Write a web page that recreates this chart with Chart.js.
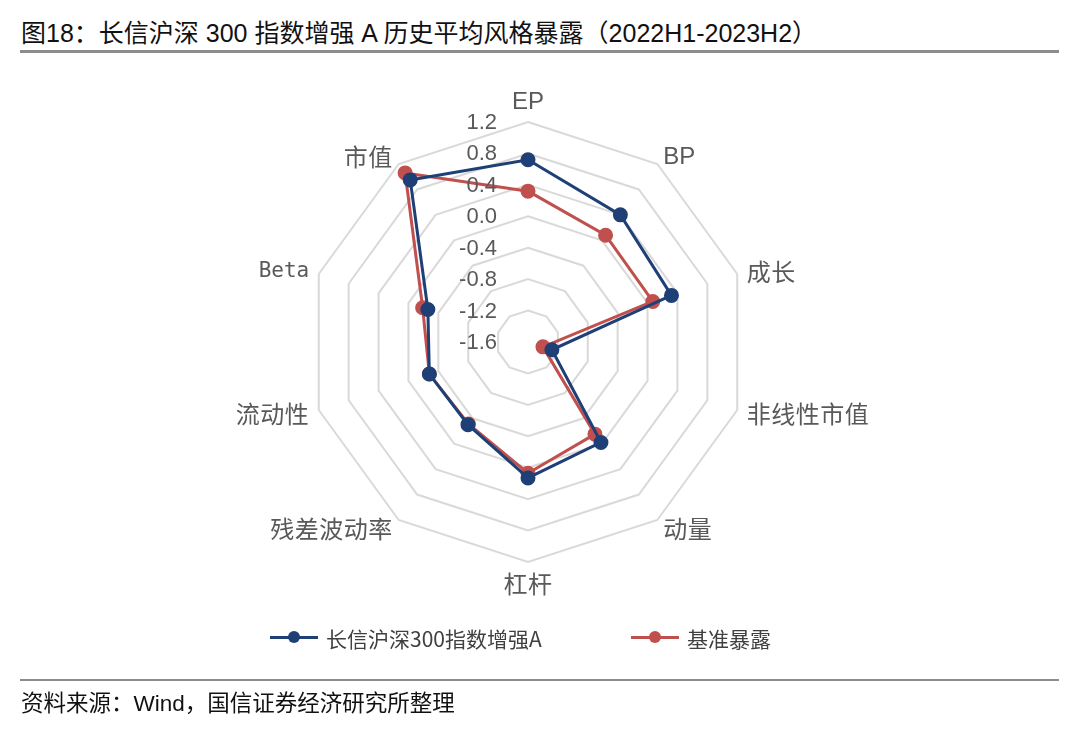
<!DOCTYPE html>
<html>
<head>
<meta charset="utf-8">
<script src="https://cdn.jsdelivr.net/npm/chart.js@4.4.1/dist/chart.umd.min.js"></script>
<style>
  html, body { margin:0; padding:0; background:#fff; }
  body { width:1080px; height:741px; position:relative; overflow:hidden;
         font-family:"Liberation Sans","Noto Sans CJK SC",sans-serif; }
  #c { position:absolute; left:0; top:0; }
  .title { position:absolute; left:21px; top:18px; font-size:25px; line-height:30px; color:#111;
           font-family:"Liberation Sans","Noto Sans CJK SC",sans-serif; white-space:nowrap; }
  .rule-top { position:absolute; left:20px; width:1039px; top:50px; height:3px; background:#8c8c8c; }
  .rule-bot { position:absolute; left:20px; width:1039px; top:679px; height:2px; background:#8c8c8c; }
  .source { position:absolute; left:21px; top:690px; font-size:22.5px; line-height:28px; color:#111; white-space:nowrap;
            font-family:"Liberation Sans","Noto Sans CJK SC",sans-serif; }
  .legend { position:absolute; top:624px; left:0; width:1080px; height:28px; }
  .lg-item { position:absolute; top:0; height:28px; display:flex; align-items:center; white-space:nowrap;
             font-size:21px; color:#404040; font-family:"Liberation Sans Narrow","Noto Sans CJK SC",sans-serif; }
  .lg-sym { position:relative; width:48px; height:28px; margin-right:8px; }
  .lg-sym .ln { position:absolute; left:0; right:0; top:12px; height:3px; }
  .lg-sym .dt { position:absolute; left:18px; top:7px; width:12px; height:12px; border-radius:50%; }
</style>
</head>
<body>
<div class="title">图18：长信沪深 300 指数增强 A 历史平均风格暴露（2022H1-2023H2）</div>
<div class="rule-top"></div>
<canvas id="c" width="1080" height="741"></canvas>
<div class="legend">
  <div class="lg-item" style="left:270px;"><div class="lg-sym"><div class="ln" style="background:#1F3F77"></div><div class="dt" style="background:#1F3F77"></div></div><span id="lg1"></span></div>
  <div class="lg-item" style="left:631px;"><div class="lg-sym"><div class="ln" style="background:#C0504D"></div><div class="dt" style="background:#C0504D"></div></div><span id="lg2"></span></div>
</div>
<div class="rule-bot"></div>
<div class="source">资料来源：Wind，国信证券经济研究所整理</div>
<script>
// ---- data ----
const categories = ['EP','BP','成长','非线性市值','动量','杠杆','残差波动率','流动性','Beta','市值'];
const fundValues = [0.72, 0.40, 0.32, -1.28, -0.02, 0.13, -0.30, -0.28, -0.26, 0.95];
const benchValues = [0.32, 0.08, 0.07, -1.40, -0.15, 0.07, -0.31, -0.28, -0.19, 1.06];
const tickLabels = ['1.2','0.8','0.4','0.0','-0.4','-0.8','-1.2','-1.6'];
const seriesNames = ['长信沪深300指数增强A','基准暴露'];
const axisMin = -1.6, axisMax = 1.2, axisStep = 0.4;

const BLUE = '#1F3F77', RED = '#C0504D', TXT = '#595959';
document.getElementById('lg1').textContent = seriesNames[0];
document.getElementById('lg2').textContent = seriesNames[1];

function labelFont(text) {
  if (/[\u4e00-\u9fff]/.test(text)) return { font: '24px "Noto Sans CJK SC",sans-serif', ls: '0.5px' };
  if (text === 'Beta') return { font: '21px "DejaVu Sans Mono",monospace', ls: '0px' };
  return { font: '24px "Liberation Sans Narrow","Liberation Sans",sans-serif', ls: '0px' };
}

const labelPlugin = {
  id: 'labelPlugin',
  afterDatasetsDraw(chart) {
    const s = chart.scales.r, ctx = chart.ctx;
    ctx.save();
    ctx.font = '22px "Liberation Sans",sans-serif';
    ctx.fillStyle = TXT;
    ctx.textAlign = 'right';
    ctx.textBaseline = 'middle';
    tickLabels.forEach(t => {
      const v = parseFloat(t);
      const y = s.yCenter - s.getDistanceFromCenterForValue(v);
      ctx.fillText(t, s.xCenter - 31, y + 1);
    });
    // point labels
    categories.forEach((c, i) => {
      const f = labelFont(c);
      ctx.font = f.font;
      if ('letterSpacing' in ctx) ctx.letterSpacing = f.ls;
      const probe = s.getPointPosition(i, s.drawingArea + 10);
      const dx = probe.x - s.xCenter, dy = probe.y - s.yCenter;
      if (Math.abs(dx) < 1 && dy < 0) {
        const p = s.getPointPosition(i, s.drawingArea + 13);
        ctx.textAlign = 'center'; ctx.textBaseline = 'alphabetic';
        ctx.fillText(c, p.x, p.y);
        return;
      }
      if (Math.abs(dx) < 1) { ctx.textAlign = 'center'; ctx.textBaseline = 'top'; ctx.fillText(c, probe.x, probe.y); return; }
      ctx.textAlign = dx > 0 ? 'left' : 'right';
      ctx.textBaseline = 'middle';
      ctx.fillText(c, probe.x, probe.y + 1);
    });
    ctx.restore();
  }
};

new Chart(document.getElementById('c'), {
  type: 'radar',
  data: {
    labels: categories,
    datasets: [
      { label: seriesNames[0], data: fundValues, borderColor: BLUE, backgroundColor: BLUE,
        pointBackgroundColor: BLUE, pointBorderColor: BLUE, borderWidth: 3, pointRadius: 6, fill: false },
      { label: seriesNames[1], data: benchValues, borderColor: RED, backgroundColor: RED,
        pointBackgroundColor: RED, pointBorderColor: RED, borderWidth: 3, pointRadius: 6, fill: false }
    ]
  },
  options: {
    responsive: false,
    animation: false,
    layout: { padding: { left: 308, right: 332, top: 122, bottom: 179 } },
    plugins: { legend: { display: false }, tooltip: { enabled: false } },
    elements: { line: { tension: 0 } },
    scales: {
      r: {
        min: axisMin, max: axisMax,
        ticks: { display: false, stepSize: axisStep },
        pointLabels: { display: false },
        angleLines: { display: false },
        grid: { color: '#D9D9D9', lineWidth: 2, circular: false }
      }
    }
  },
  plugins: [labelPlugin]
});
</script>
</body>
</html>
